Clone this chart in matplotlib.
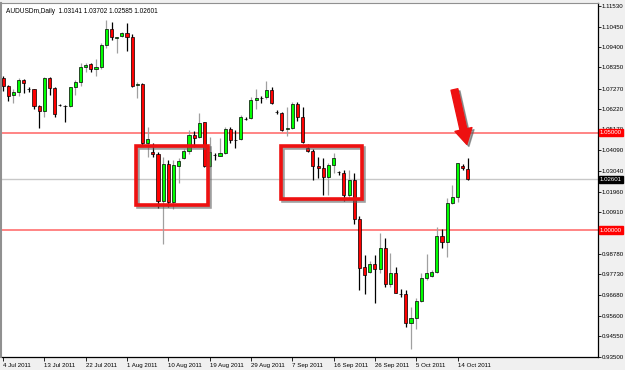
import matplotlib
matplotlib.use("Agg")
import matplotlib.pyplot as plt
from matplotlib.patches import Rectangle
from matplotlib.transforms import blended_transform_factory, offset_copy
import numpy as np

# daily AUDUSD candles, 4 Jul 2011 .. 17 Oct 2011 (broker has Sunday bars)
opens = [1.0781, 1.0740, 1.0694, 1.0707, 1.0771, 1.0724, 1.0722, 1.0639, 1.0613, 1.0780,
         1.0731, 1.0643, 1.0638, 1.0637, 1.0733, 1.0762, 1.0836, 1.0851, 1.0826, 1.0836,
         1.0951, 1.1031, 1.0989, 1.0997, 1.1014, 1.0993, 1.0744, 1.0750, 1.0446, 1.0402,
         1.0391, 1.0151, 1.0339, 1.0142, 1.0329, 1.0368, 1.0407, 1.0488, 1.0476, 1.0553,
         1.0330, 1.0386, 1.0382, 1.0394, 1.0517, 1.0463, 1.0466, 1.0571, 1.0574, 1.0668,
         1.0680, 1.0682, 1.0719, 1.0606, 1.0603, 1.0517, 1.0523, 1.0647, 1.0579, 1.0420,
         1.0407, 1.0329, 1.0320, 1.0271, 1.0334, 1.0298, 1.0291, 1.0180, 1.0257, 1.0055,
         0.9808, 0.9786, 0.9825, 0.9798, 0.9906, 0.9723, 0.9777, 0.9672, 0.9671, 0.9521,
         0.9546, 0.9637, 0.9752, 0.9764, 0.9786, 0.9969, 0.9940, 1.0140, 1.0168, 1.0329,
         1.03141]
highs = [1.0791, 1.0745, 1.0727, 1.0779, 1.0776, 1.0736, 1.0727, 1.0642, 1.0788, 1.0785,
         1.0736, 1.0647, 1.0642, 1.0737, 1.0771, 1.0860, 1.0860, 1.0857, 1.0877, 1.0962,
         1.1079, 1.1070, 1.0993, 1.1019, 1.1062, 1.1007, 1.0762, 1.0757, 1.0528, 1.0449,
         1.0402, 1.0377, 1.0360, 1.0360, 1.0368, 1.0415, 1.0514, 1.0510, 1.0600, 1.0557,
         1.0479, 1.0394, 1.0471, 1.0531, 1.0531, 1.0514, 1.0591, 1.0579, 1.0682, 1.0723,
         1.0689, 1.0767, 1.0736, 1.0617, 1.0608, 1.0634, 1.0659, 1.0659, 1.0634, 1.0440,
         1.0415, 1.0374, 1.0368, 1.0343, 1.0397, 1.0305, 1.0308, 1.0308, 1.0291, 1.0072,
         0.9872, 0.9842, 0.9872, 0.9986, 0.9957, 0.9880, 0.9811, 0.9695, 0.9692, 0.9606,
         0.9649, 0.9777, 0.9877, 0.9794, 1.0017, 1.0004, 1.0163, 1.0231, 1.0346, 1.0338,
         1.03702]
lows = [1.0714, 1.0663, 1.0655, 1.0686, 1.0704, 1.0711, 1.0622, 1.0526, 1.0582, 1.0694,
        1.0582, 1.0637, 1.0557, 1.0630, 1.0694, 1.0740, 1.0813, 1.0813, 1.0791, 1.0826,
        1.0934, 1.0976, 1.0911, 1.0992, 1.0921, 1.0733, 1.0677, 1.0437, 1.0377, 1.0377,
        1.0112, 0.9928, 1.0120, 1.0108, 1.0243, 1.0363, 1.0391, 1.0425, 1.0471, 1.0325,
        1.0325, 1.0360, 1.0380, 1.0391, 1.0446, 1.0420, 1.0462, 1.0565, 1.0569, 1.0620,
        1.0651, 1.0672, 1.0647, 1.0595, 1.0509, 1.0483, 1.0519, 1.0562, 1.0446, 1.0402,
        1.0257, 1.0266, 1.0180, 1.0180, 1.0291, 1.0283, 1.0151, 1.0171, 1.0031, 0.9692,
        0.9671, 0.9777, 0.9623, 0.9777, 0.9709, 0.9709, 0.9675, 0.9657, 0.9500, 0.9387,
        0.9490, 0.9632, 0.9743, 0.9760, 0.9781, 0.9906, 0.9863, 1.0135, 1.0145, 1.0308,
        1.02585]
closes = [1.0740, 1.0691, 1.0707, 1.0771, 1.0753, 1.0722, 1.0637, 1.0613, 1.0780, 1.0731,
          1.0595, 1.0642, 1.0637, 1.0733, 1.0762, 1.0836, 1.0848, 1.0826, 1.0836, 1.0951,
          1.1031, 1.0990, 1.0990, 1.1014, 1.0993, 1.0740, 1.0750, 1.0446, 1.0466, 1.0391,
          1.0151, 1.0339, 1.0142, 1.0334, 1.0355, 1.0407, 1.0488, 1.0474, 1.0551, 1.0330,
          1.0402, 1.0385, 1.0394, 1.0517, 1.0462, 1.0462, 1.0579, 1.0570, 1.0668, 1.0677,
          1.0679, 1.0719, 1.0651, 1.0605, 1.0514, 1.0526, 1.0647, 1.0579, 1.0454, 1.0407,
          1.0329, 1.0317, 1.0271, 1.0334, 1.0368, 1.0297, 1.0180, 1.0257, 1.0055, 0.9803,
          0.9769, 0.9825, 0.9798, 0.9906, 0.9723, 0.9777, 0.9678, 0.9671, 0.9521, 0.9546,
          0.9637, 0.9752, 0.9777, 0.9786, 0.9969, 0.9940, 1.0140, 1.0171, 1.0343, 1.0317,
          1.02601]

date_labels = ['4 Jul 2011', '13 Jul 2011', '22 Jul 2011', '1 Aug 2011', '10 Aug 2011',
               '19 Aug 2011', '29 Aug 2011', '7 Sep 2011', '16 Sep 2011', '26 Sep 2011',
               '5 Oct 2011', '14 Oct 2011']
date_step = 8
price_ticks = [1.11530, 1.10450, 1.09400, 1.08350, 1.07270, 1.06220, 1.05170, 1.04090,
               1.03040, 1.01960, 1.00910, 0.98780, 0.97730, 0.96680, 0.95600, 0.94550,
               0.93500]
levels = [1.05, 1.00]
last_price = 1.02601
title = 'AUDUSDm,Daily  1.03141 1.03702 1.02585 1.02601'

plt.rcParams['font.family'] = ['Liberation Sans', 'DejaVu Sans']
FS = 4.4

fig = plt.figure(figsize=(6.25, 3.7), dpi=100)
fig.patch.set_facecolor('#f0f0f0')
ax = fig.add_axes([0.0024, 0.035, 0.9544, 0.957])
ax.set_facecolor('white')

o = np.array(opens)
h = np.array(highs)
l = np.array(lows)
c = np.array(closes)
x = np.arange(len(o))
bull = c >= o

# wicks: grey for up bars, black for down bars
ax.vlines(x[bull], l[bull], h[bull], color='#a0a0a0', lw=0.9, zorder=2)
ax.vlines(x[~bull], l[~bull], h[~bull], color='black', lw=0.9, zorder=2)

body_lo = np.minimum(o, c)
body_h = np.maximum(np.abs(c - o), 0.00004)
ax.bar(x[bull], body_h[bull], bottom=body_lo[bull], width=0.6,
       color='#00ff00', edgecolor='black', linewidth=0.5, zorder=3)
ax.bar(x[~bull], body_h[~bull], bottom=body_lo[~bull], width=0.6,
       color='#ff0000', edgecolor='black', linewidth=0.5, zorder=3)

# horizontal levels
for lv in levels:
    ax.axhline(lv, color='#ff7b7b', lw=1.3, zorder=1)
ax.axhline(last_price, color='#c8c8c8', lw=1.0, zorder=1)

# hand-drawn boxes with a drop shadow
shadow_tr = offset_copy(ax.transData, fig=fig, x=1.5, y=-1.5, units='points')
for (x0, x1, y0, y1) in [(25.8, 39.6, 1.0128, 1.0433), (53.9, 69.5, 1.0158, 1.0432)]:
    ax.add_patch(Rectangle((x0, y0), x1 - x0, y1 - y0, fill=False, edgecolor='#606060',
                           alpha=0.6, lw=2.6, zorder=4, transform=shadow_tr))
    ax.add_patch(Rectangle((x0, y0), x1 - x0, y1 - y0, fill=False, edgecolor='#ee1111',
                           lw=2.6, zorder=5))

# arrow pointing at the last candles
arrow_kw = dict(arrowstyle='simple,head_length=1.1,head_width=1.25,tail_width=0.5',
                shrinkA=0, shrinkB=0)
ax.annotate('', xy=(89.8, 1.0440), xytext=(87.4, 1.0722), zorder=5,
            xycoords=shadow_tr, textcoords=shadow_tr,
            arrowprops=dict(color='#606060', alpha=0.6, **arrow_kw))
ax.annotate('', xy=(89.8, 1.0440), xytext=(87.4, 1.0722), zorder=6,
            arrowprops=dict(color='#ee1111', **arrow_kw))

ax.set_xlim(-0.3, 115.2)
ax.set_ylim(0.93474, 1.11665)

ax.yaxis.tick_right()
ax.set_yticks(price_ticks)
ax.set_yticklabels([f'{v:.5f}' for v in price_ticks])
ax.set_xticks(np.arange(len(date_labels)) * date_step)
ax.set_xticklabels(date_labels, ha='left')
ax.tick_params(axis='both', labelsize=FS, width=0.6, colors='black')
ax.tick_params(axis='y', length=2, pad=0.8)
ax.tick_params(axis='x', length=3, pad=1)

for s in ['right', 'bottom']:
    ax.spines[s].set_color('black')
    ax.spines[s].set_linewidth(0.9)
ax.spines['top'].set_color('#909090')
ax.spines['left'].set_color('#909090')
ax.spines['left'].set_linewidth(1.5)

# price labels on the right scale
tr = blended_transform_factory(ax.transAxes, ax.transData)
for lv in levels:
    ax.text(1.003, lv, f'{lv:.5f}', transform=tr, fontsize=FS, color='white', va='center',
            ha='left', bbox=dict(boxstyle='square,pad=0.2', fc='#ff0000', ec='#ff0000'),
            clip_on=False, zorder=10)
ax.text(1.003, last_price, f'{last_price:.5f}', transform=tr, fontsize=FS, color='white',
        va='center', ha='left', bbox=dict(boxstyle='square,pad=0.2', fc='black', ec='black'),
        clip_on=False, zorder=10)

ax.text(0.008, 0.985, title, transform=ax.transAxes, fontsize=FS + 0.3, va='top', ha='left')

fig.savefig('out.png', dpi=100, facecolor=fig.get_facecolor())
